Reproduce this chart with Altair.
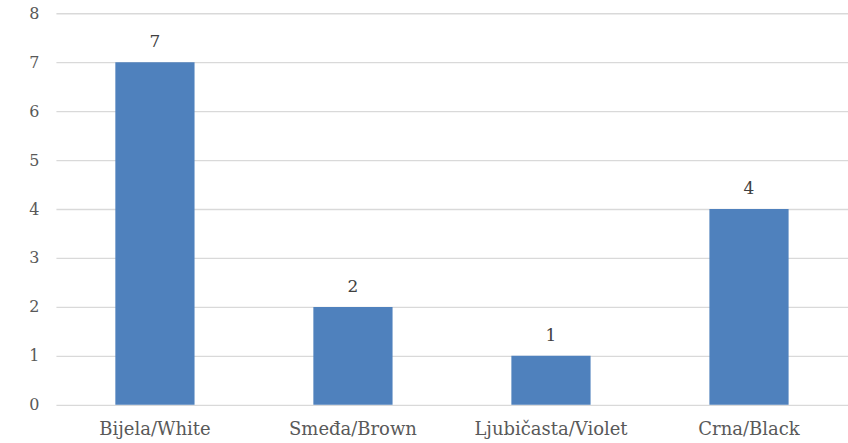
import altair as alt
import pandas as pd

categories = ["Bijela/White", "Smeđa/Brown", "Ljubičasta/Violet", "Crna/Black"]
counts = [7, 2, 1, 4]

df = pd.DataFrame({"category": categories, "count": counts})

FONT = "DejaVu Serif"

x = alt.X(
    "category:N",
    sort=categories,
    title=None,
    scale=alt.Scale(paddingInner=0.6, paddingOuter=0.3),
    axis=alt.Axis(
        labelAngle=0,
        labelFont=FONT,
        labelFontSize=18,
        labelColor="#595959",
        labelPadding=16,
        ticks=False,
        domain=False,
        grid=False,
    ),
)
y = alt.Y(
    "count:Q",
    title=None,
    scale=alt.Scale(domain=[0, 8], nice=False),
    axis=alt.Axis(
        values=list(range(0, 9)),
        labelFont=FONT,
        labelFontSize=16,
        labelColor="#595959",
        labelPadding=17,
        ticks=False,
        domain=False,
        gridColor="#d9d9d9",
        gridWidth=1.3,
    ),
)

bars = alt.Chart(df).mark_bar(color="#4f81bd").encode(x=x, y=y)
text = alt.Chart(df).mark_text(
    dy=-20, font=FONT, fontSize=17, color="#404040"
).encode(x=x, y=y, text="count:Q")

chart = (
    (bars + text)
    .properties(width=793, height=392, padding={"left": 56, "top": 13, "right": 0, "bottom": 38})
    .configure(autosize=alt.AutoSizeParams(type="none"))
    .configure_view(stroke=None)
)

chart.save("out.html", embed_options={"renderer": "svg", "actions": False})
